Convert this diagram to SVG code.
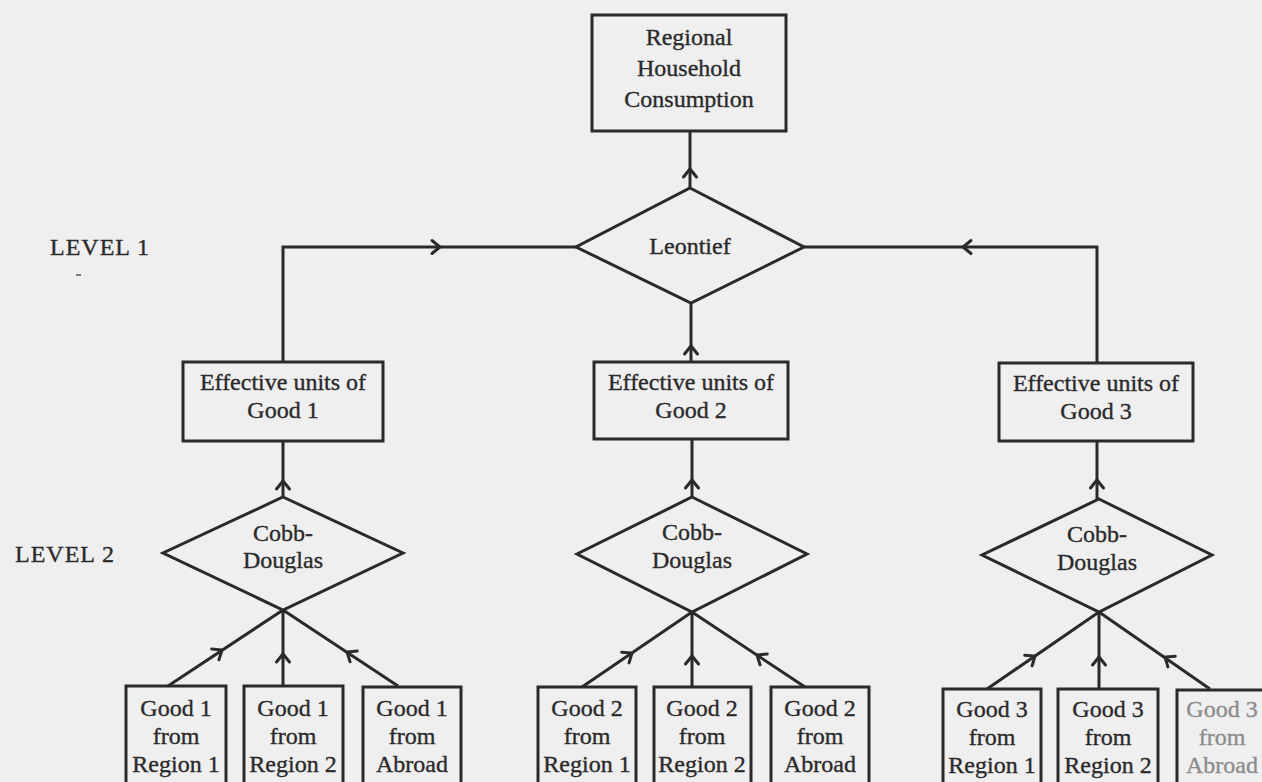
<svg xmlns="http://www.w3.org/2000/svg" xmlns:xlink="http://www.w3.org/1999/xlink" width="1262" height="782" viewBox="0 0 1262 782">
<style>
.bg{fill:#efefef}
.box{fill:none;stroke:#2a2a2a;stroke-width:3}
.dia{fill:none;stroke:#2a2a2a;stroke-width:3;stroke-linejoin:miter}
.ln{fill:none;stroke:#2a2a2a;stroke-width:3}
.chev{fill:none;stroke:#2a2a2a;stroke-width:3;stroke-linecap:round;stroke-linejoin:miter}
text{font-family:"Liberation Serif","Times New Roman",serif;font-size:24px;fill:#2a2a2a;stroke:#2a2a2a;stroke-width:0.35;text-anchor:middle}
.lvl{text-anchor:start;letter-spacing:1px}
.faded{fill:#8c8c8c;stroke:#8c8c8c}
</style>
<defs>
<path id="chev" class="chev" d="M-6.5,8 L0,0 L6.5,8"/>
</defs>
<rect class="bg" x="0" y="0" width="1262" height="782"/>

<g id="labels">
<text class="lvl" x="50" y="255">LEVEL 1</text>
<line x1="76" y1="275" x2="81" y2="275" stroke="#555" stroke-width="1.5"/>
<text class="lvl" x="15" y="562">LEVEL 2</text>
</g>

<g id="connectors">
<path class="ln" d="M690,188 L690,131"/>
<use xlink:href="#chev" transform="translate(690,169)"/>
<path class="ln" d="M283,362 L283,247 L576,247"/>
<use xlink:href="#chev" transform="translate(440,247) rotate(90)"/>
<path class="ln" d="M1097,363 L1097,247 L804,247"/>
<use xlink:href="#chev" transform="translate(963,247) rotate(-90)"/>
<path class="ln" d="M691,362 L691,303"/>
<use xlink:href="#chev" transform="translate(691,346)"/>

<path class="ln" d="M283,441 L283,497"/>
<use xlink:href="#chev" transform="translate(283,481)"/>
<path class="ln" d="M692,439 L692,497"/>
<use xlink:href="#chev" transform="translate(692,480)"/>
<path class="ln" d="M1097,441 L1097,499"/>
<use xlink:href="#chev" transform="translate(1097,480)"/>

<path class="ln" d="M168,686 L283,610 M283,686 L283,610 M398,686 L283,610"/>
<use xlink:href="#chev" transform="translate(222,650) rotate(56.5)"/>
<use xlink:href="#chev" transform="translate(283,654)"/>
<use xlink:href="#chev" transform="translate(347,652) rotate(-56.5)"/>

<path class="ln" d="M582,687 L692,612 M692,687 L692,612 M805,687 L692,612"/>
<use xlink:href="#chev" transform="translate(632,653) rotate(55.7)"/>
<use xlink:href="#chev" transform="translate(692,656)"/>
<use xlink:href="#chev" transform="translate(757,655) rotate(-56.4)"/>

<path class="ln" d="M987,689 L1099,612 M1099,689 L1099,612 M1210,689 L1099,612"/>
<use xlink:href="#chev" transform="translate(1035,656) rotate(55.5)"/>
<use xlink:href="#chev" transform="translate(1099,657)"/>
<use xlink:href="#chev" transform="translate(1165,657) rotate(-55.3)"/>
</g>

<g id="consumption">
<rect class="box" x="592" y="15" width="194" height="116"/>
<text x="689" y="45">Regional</text>
<text x="689" y="76">Household</text>
<text x="689" y="107">Consumption</text>
</g>

<g id="leontief">
<polygon class="dia" points="690,188 804,247 691,303 576,247"/>
<text x="690" y="254">Leontief</text>
</g>

<g id="eff1">
<rect class="box" x="183" y="362" width="200" height="79"/>
<text x="283" y="390">Effective units of</text>
<text x="283" y="418">Good 1</text>
</g>
<g id="eff2">
<rect class="box" x="594" y="362" width="194" height="77"/>
<text x="691" y="390">Effective units of</text>
<text x="691" y="418">Good 2</text>
</g>
<g id="eff3">
<rect class="box" x="999" y="363" width="194" height="78"/>
<text x="1096" y="391">Effective units of</text>
<text x="1096" y="419">Good 3</text>
</g>

<g id="cd1">
<polygon class="dia" points="283,497 403,553 283,610 163,553"/>
<text x="283" y="541">Cobb-</text>
<text x="283" y="568">Douglas</text>
</g>
<g id="cd2">
<polygon class="dia" points="692,497 807,554 692,612 577,554"/>
<text x="692" y="540">Cobb-</text>
<text x="692" y="568">Douglas</text>
</g>
<g id="cd3">
<polygon class="dia" points="1099,499 1212,555 1099,612 982,555"/>
<text x="1097" y="542">Cobb-</text>
<text x="1097" y="570">Douglas</text>
</g>

<g id="g1r1">
<rect class="box" x="126" y="686" width="100" height="110"/>
<text x="176" y="716">Good 1</text><text x="176" y="744">from</text><text x="176" y="772">Region 1</text>
</g>
<g id="g1r2">
<rect class="box" x="244" y="686" width="99" height="110"/>
<text x="293" y="716">Good 1</text><text x="293" y="744">from</text><text x="293" y="772">Region 2</text>
</g>
<g id="g1ab">
<rect class="box" x="363" y="687" width="98" height="110"/>
<text x="412" y="716">Good 1</text><text x="412" y="744">from</text><text x="412" y="772">Abroad</text>
</g>

<g id="g2r1">
<rect class="box" x="538" y="687" width="98" height="110"/>
<text x="587" y="716">Good 2</text><text x="587" y="744">from</text><text x="587" y="772">Region 1</text>
</g>
<g id="g2r2">
<rect class="box" x="654" y="687" width="97" height="110"/>
<text x="702" y="716">Good 2</text><text x="702" y="744">from</text><text x="702" y="772">Region 2</text>
</g>
<g id="g2ab">
<rect class="box" x="771" y="687" width="98" height="110"/>
<text x="820" y="716">Good 2</text><text x="820" y="744">from</text><text x="820" y="772">Abroad</text>
</g>

<g id="g3r1">
<rect class="box" x="943" y="689" width="98" height="110"/>
<text x="992" y="717">Good 3</text><text x="992" y="745">from</text><text x="992" y="773">Region 1</text>
</g>
<g id="g3r2">
<rect class="box" x="1058" y="689" width="100" height="110"/>
<text x="1108" y="717">Good 3</text><text x="1108" y="745">from</text><text x="1108" y="773">Region 2</text>
</g>
<g id="g3ab">
<rect class="box" x="1177" y="690" width="100" height="110"/>
<text class="faded" x="1222" y="717">Good 3</text><text class="faded" x="1222" y="745">from</text><text class="faded" x="1222" y="773">Abroad</text>
</g>
</svg>
